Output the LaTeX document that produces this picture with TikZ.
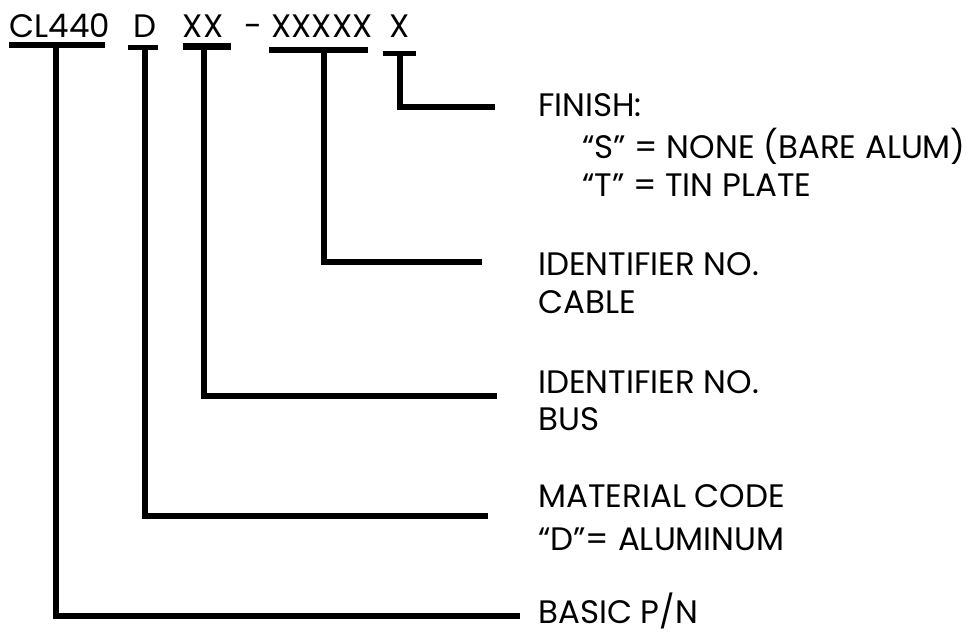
\documentclass[tikz,border=0pt]{standalone}
\usepackage{fontspec}
\setmainfont{Poppins}
\usepackage{tikz}
\usetikzlibrary{positioning}

\begin{document}
\begin{tikzpicture}[x=1pt,y=-1pt,
    code/.style={inner sep=0pt,anchor=base,font=\fontsize{32.5}{38}\selectfont},
    lbl/.style={inner sep=0pt,anchor=base west,font=\fontsize{32.5}{38}\selectfont},
    bar/.style={fill=black,inner sep=0pt,minimum height=6pt},
    lead/.style={line width=6pt,line join=miter}]
    \useasboundingbox (0,0) rectangle (967,634);
    % Part number
    \node[code] (cl) at (60,38) {CL440};
    \node[code] (mat) at (145,38) {D};
    \node[code] (bus) at (203,38) {XX};
    \node[code] (dash) at (253,38) {-};
    \node[code] (cab) at (322,38) {XXXXX};
    \node[code] (fin) at (400,38) {X};
    % Underline bars
    \node[bar, minimum width=96pt] (clbar) at (57,45) {};
    \node[bar, minimum width=30pt, minimum height=5pt] (matbar) at (143,47.5) {};
    \node[bar, minimum width=48pt, minimum height=7pt] (busbar) at (207,46.5) {};
    \node[bar, minimum width=99pt] (cabbar) at (318.5,50) {};
    \node[bar, minimum width=33pt, minimum height=5pt] (finbar) at (399.5,53.5) {};
    % Descriptions
    \node[lbl] (finlbl) at (538,117) {FINISH:};
    \node[lbl] (fins) at (582,158) {“S” = NONE (BARE ALUM)};
    \node[lbl] (fint) at (582,196) {“T” = TIN PLATE};
    \node[lbl] (cablbl) at (538,275) {IDENTIFIER NO.};
    \node[lbl] (cabtxt) at (538,313) {CABLE};
    \node[lbl] (buslbl) at (538,393) {IDENTIFIER NO.};
    \node[lbl] (bustxt) at (538,430) {BUS};
    \node[lbl] (matlbl) at (538,507) {MATERIAL CODE};
    \node[lbl] (mattxt) at (538,550) {“D”= ALUMINUM};
    \node[lbl] (cllbl) at (538,623) {BASIC P/N};
    % Leader ends
    \coordinate (finend) at (495,107);
    \coordinate (cabend) at (482,262);
    \coordinate (busend) at (497,396);
    \coordinate (matend) at (488,516);
    \coordinate (clend) at (520,616);
    % Leaders
    \draw[lead] (finend) -| (finbar.center);
    \draw[lead] ([xshift=5.5pt]cabbar.center) |- (cabend);
    \draw[lead] ([xshift=-3.5pt]busbar.center) |- (busend);
    \draw[lead] ([xshift=2pt]matbar.center) |- (matend);
    \draw[lead] ([xshift=-1pt]clbar.center) |- (clend);
\end{tikzpicture}
\end{document}
